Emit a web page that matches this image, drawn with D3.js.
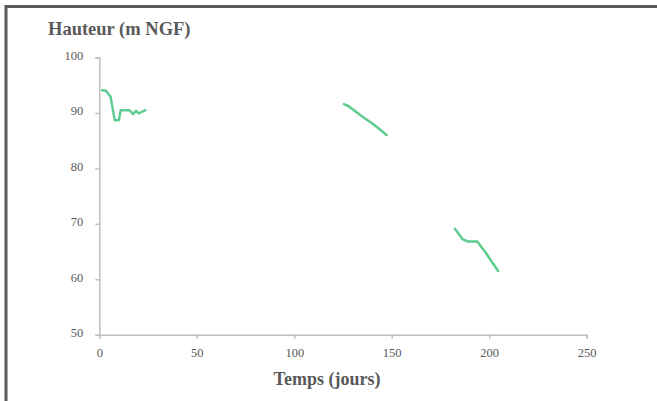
<!DOCTYPE html>
<html>
<head>
<meta charset="utf-8">
<script src="https://cdn.jsdelivr.net/npm/d3@7"></script>
<style>
  html, body { margin: 0; padding: 0; background: #fff; }
  svg { display: block; }
  text { font-family: "Liberation Serif", "DejaVu Serif", serif; fill: #595959; }
</style>
</head>
<body>
<svg id="chart" width="657" height="401"></svg>
<script>
// Data (jours, m NGF) — three measured segments
const segment1Days   = [1.4, 3.4, 5.8, 7.9, 10.0, 11.0, 15.4, 17.4, 18.8, 20.2, 23.6];
const segment1Height = [94.1, 94.0, 92.9, 88.7, 88.7, 90.5, 90.5, 89.8, 90.4, 89.9, 90.5];
const segment2Days   = [125.5, 127.7, 132.8, 136.3, 139.7, 144.0, 147.4];
const segment2Height = [91.6, 91.25, 89.9, 89.0, 88.2, 87.0, 86.0];
const segment3Days   = [182.4, 186.4, 189.2, 193.9, 195.2, 197.8, 201.2, 204.6];
const segment3Height = [69.1, 67.2, 66.8, 66.8, 66.2, 65.0, 63.2, 61.5];
const xTicks = [0, 50, 100, 150, 200, 250];
const yTicks = [50, 60, 70, 80, 90, 100];
const xTitle = "Temps (jours)";
const yTitle = "Hauteur (m NGF)";

const svg = d3.select("#chart");

// outer frame (only top and left visible)
svg.append("rect")
  .attr("x", 6).attr("y", 6.5).attr("width", 700).attr("height", 500)
  .attr("fill", "none").attr("stroke", "#595959").attr("stroke-width", 3);

const x = d3.scaleLinear().domain([0, 250]).range([99.3, 586.7]);
const y = d3.scaleLinear().domain([50, 100]).range([334.7, 57.5]);

const axisColor = "#bfbfbf";

const gx = svg.append("g").attr("transform", `translate(0,${y(50)})`)
  .call(d3.axisBottom(x).tickValues(xTicks).tickSize(4).tickPadding(9).tickFormat(d3.format("d")));
const gy = svg.append("g").attr("transform", `translate(${x(0)},0)`)
  .call(d3.axisLeft(y).tickValues(yTicks).tickSize(4).tickPadding(12).tickFormat(d3.format("d")));

[gx, gy].forEach(g => {
  g.select(".domain").attr("stroke", axisColor).attr("stroke-width", 1.5);
  g.selectAll(".tick line").attr("stroke", axisColor).attr("stroke-width", 1.5);
  g.selectAll(".tick text").attr("fill", "#595959").style("font-size", "12.5px")
    .style("font-family", "'Liberation Serif', serif");
});
gy.selectAll(".tick text").attr("dy", "0.15em");

const line = d3.line().x(d => x(d[0])).y(d => y(d[1]));
const segments = [
  d3.zip(segment1Days, segment1Height),
  d3.zip(segment2Days, segment2Height),
  d3.zip(segment3Days, segment3Height)
];
svg.append("g").selectAll("path").data(segments).join("path")
  .attr("d", line)
  .attr("fill", "none")
  .attr("stroke", "#5ecb8f")
  .attr("stroke-width", 2.5)
  .attr("stroke-linejoin", "round")
  .attr("stroke-linecap", "round");

svg.append("text").attr("x", 48).attr("y", 35)
  .style("font-size", "18.5px").style("font-weight", "bold").text(yTitle);
svg.append("text").attr("x", 327).attr("y", 385).attr("text-anchor", "middle")
  .style("font-size", "18px").style("font-weight", "bold").text(xTitle);
</script>
</body>
</html>
